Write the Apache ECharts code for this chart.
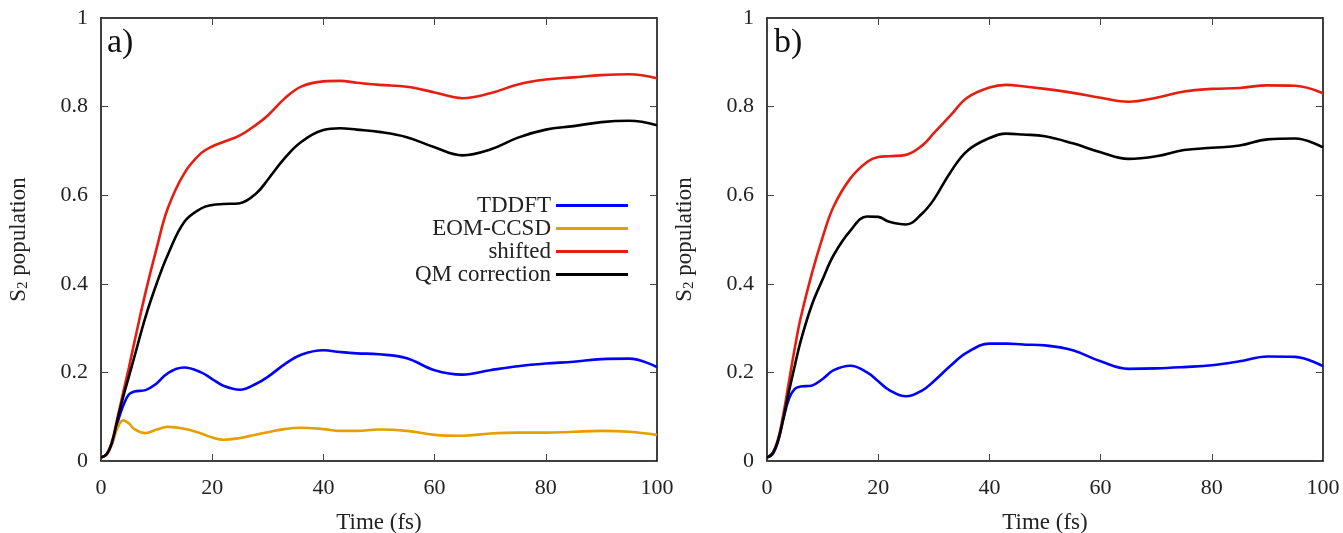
<!DOCTYPE html>
<html>
<head>
<meta charset="utf-8">
<script src="https://cdn.jsdelivr.net/npm/echarts@6/dist/echarts.min.js"></script>
<style>html,body{margin:0;padding:0;background:#fff;}#c{width:1343px;height:533px;}</style>
</head>
<body>
<div id="c"></div>
<script>
const time = [0,1,2,3,4,5,6,8,10,12,15,18,20,22,25,28,30,33,36,40,43,46,50,55,60,65,70,75,80,85,90,95,100];

// panel a)
const a_tddft = [0.008,0.015,0.04,0.088,0.125,0.15,0.157,0.16,0.175,0.198,0.211,0.2,0.185,0.17,0.161,0.175,0.19,0.218,0.24,0.25,0.246,0.243,0.241,0.232,0.205,0.195,0.205,0.214,0.22,0.224,0.23,0.231,0.212];
const a_eom = [0.008,0.015,0.04,0.075,0.092,0.085,0.072,0.063,0.071,0.077,0.073,0.062,0.053,0.048,0.052,0.06,0.065,0.072,0.075,0.072,0.068,0.068,0.071,0.068,0.059,0.057,0.062,0.064,0.064,0.066,0.068,0.066,0.059];
const a_shift = [0.008,0.015,0.045,0.1,0.155,0.21,0.268,0.38,0.48,0.57,0.65,0.695,0.71,0.72,0.735,0.76,0.78,0.818,0.845,0.857,0.858,0.854,0.849,0.845,0.832,0.819,0.83,0.85,0.861,0.866,0.871,0.873,0.864];
const a_qm = [0.008,0.015,0.043,0.095,0.145,0.19,0.235,0.325,0.4,0.465,0.54,0.57,0.578,0.58,0.582,0.605,0.635,0.683,0.72,0.747,0.751,0.748,0.743,0.731,0.708,0.69,0.703,0.73,0.748,0.756,0.765,0.768,0.758];

// panel b)
const b_tddft = [0.008,0.015,0.045,0.098,0.142,0.163,0.168,0.17,0.185,0.205,0.215,0.2,0.18,0.16,0.146,0.16,0.18,0.215,0.245,0.265,0.265,0.263,0.261,0.25,0.225,0.208,0.209,0.212,0.216,0.225,0.236,0.235,0.214];
const b_shift = [0.008,0.018,0.05,0.11,0.183,0.255,0.32,0.42,0.505,0.575,0.638,0.675,0.686,0.688,0.691,0.713,0.74,0.78,0.82,0.843,0.849,0.846,0.84,0.831,0.82,0.811,0.82,0.834,0.84,0.842,0.848,0.847,0.83];
const b_qm = [0.008,0.017,0.047,0.1,0.16,0.215,0.268,0.35,0.41,0.465,0.52,0.552,0.551,0.54,0.534,0.56,0.59,0.652,0.7,0.729,0.739,0.737,0.733,0.717,0.697,0.682,0.688,0.702,0.707,0.712,0.726,0.728,0.708];

const legendNames = ['TDDFT','EOM-CCSD','shifted','QM correction'];
const xTicks = {min:0, max:100, interval:20};
const yTicks = {min:0, max:1, interval:0.2};
const panelLabels = ['a)','b)'];

const FONT = 'Liberation Serif';
const colors = {TDDFT:'#0000ff','EOM-CCSD':'#e69f00',shifted:'#e51e10','QM correction':'#000000'};

function pts(arr){ return time.map((t,i)=>[t,arr[i]]); }

function xAx(gi, pos, labels){
  return {type:'value', gridIndex:gi, position:pos, min:xTicks.min, max:xTicks.max, interval:xTicks.interval,
    axisLine:{show:true, onZero:false, lineStyle:{color:'#000', width:1.5}},
    axisTick:{show:true, inside:true, length:7, lineStyle:{color:'#444', width:1}},
    axisLabel:{show:labels, margin:16, color:'#222', fontFamily:FONT, fontSize:22},
    splitLine:{show:false},
    name: labels ? 'Time (fs)' : '', nameLocation:'middle', nameGap:50,
    nameTextStyle:{color:'#222', fontFamily:FONT, fontSize:23}};
}
function yAx(gi, pos, labels){
  return {type:'value', gridIndex:gi, position:pos, min:yTicks.min, max:yTicks.max, interval:yTicks.interval,
    axisLine:{show:true, onZero:false, lineStyle:{color:'#000', width:1.5}},
    axisTick:{show:true, inside:true, length:7, lineStyle:{color:'#444', width:1}},
    axisLabel:{show:labels, margin:13, color:'#222', fontFamily:FONT, fontSize:22},
    splitLine:{show:false},
    name: labels ? '{a|S}{b|2}{a| population}' : '', nameLocation:'middle', nameGap:70, nameRotate:90,
    nameTextStyle:{color:'#222', fontFamily:FONT, fontSize:23,
      rich:{a:{fontFamily:FONT, fontSize:23, color:'#222'}, b:{fontFamily:FONT, fontSize:15, color:'#222', padding:[9,0,0,0]}}}};
}
function ser(name, arr, xi, yi){
  return {name:name, type:'line', xAxisIndex:xi, yAxisIndex:yi, data:pts(arr), smooth:0.4,
    showSymbol:false, symbol:'none', lineStyle:{color:colors[name], width:2.6}, itemStyle:{color:colors[name]},
    emphasis:{disabled:true}, animation:false};
}

const option = {
  animation:false,
  grid:[
    {left:101, right:686, top:18, bottom:72, containLabel:false, outerBoundsMode:'none'},
    {left:767, right:20, top:18, bottom:72, containLabel:false, outerBoundsMode:'none'}
  ],
  xAxis:[xAx(0,'bottom',true), xAx(0,'top',false), xAx(1,'bottom',true), xAx(1,'top',false)],
  yAxis:[yAx(0,'left',true), yAx(0,'right',false), yAx(1,'left',true), yAx(1,'right',false)],
  legend:{data:legendNames.map(n=>({name:n, icon:'rect'})), orient:'vertical', align:'right',
    right:715, top:194, padding:0, itemGap:0, itemWidth:72, itemHeight:3,
    textStyle:{fontFamily:FONT, fontSize:23, color:'#222'}, selectedMode:false},
  graphic:[
    {type:'text', left:107, top:26, style:{text:panelLabels[0], font:'34px "Liberation Serif"', fill:'#111'}},
    {type:'text', left:774, top:26, style:{text:panelLabels[1], font:'34px "Liberation Serif"', fill:'#111'}}
  ],
  series:[
    ser('TDDFT', a_tddft, 0, 0),
    ser('EOM-CCSD', a_eom, 0, 0),
    ser('shifted', a_shift, 0, 0),
    ser('QM correction', a_qm, 0, 0),
    ser('TDDFT', b_tddft, 2, 2),
    ser('shifted', b_shift, 2, 2),
    ser('QM correction', b_qm, 2, 2)
  ]
};
const chart = echarts.init(document.getElementById('c'), null, {renderer:'canvas'});
chart.setOption(option);
</script>
</body>
</html>
